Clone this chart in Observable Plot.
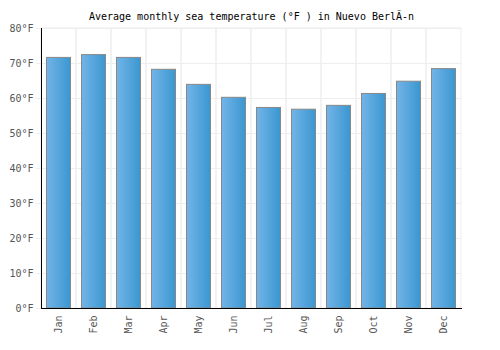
<!DOCTYPE html>
<html>
<head>
<meta charset="utf-8">
<script src="https://cdn.jsdelivr.net/npm/d3@7"></script>
<script src="https://cdn.jsdelivr.net/npm/@observablehq/plot@0.6"></script>
<style>
  body { margin: 0; background: #fff; }
</style>
</head>
<body>
<div id="chart"></div>
<script>
const titleText = "Average monthly sea temperature (°F ) in Nuevo BerlÃ-n";
const months = ["Jan","Feb","Mar","Apr","May","Jun","Jul","Aug","Sep","Oct","Nov","Dec"];
const temps = [71.6, 72.4, 71.6, 68.2, 63.9, 60.2, 57.3, 56.8, 57.9, 61.3, 64.8, 68.4];
const yTicks = [0, 10, 20, 30, 40, 50, 60, 70, 80];

const data = months.map((m, i) => ({month: m, temp: temps[i]}));
const font = "'DejaVu Sans Mono', monospace";

const chart = Plot.plot({
  width: 500,
  height: 350,
  marginLeft: 41,
  marginRight: 39,
  marginTop: 28,
  marginBottom: 42,
  style: {fontFamily: font, fontSize: "10px", color: "#555", background: "#fff"},
  x: {domain: months, padding: 0, label: null, tickSize: 0, tickRotate: -90, tickPadding: 7},
  y: {domain: [0, 80], ticks: yTicks, tickFormat: d => d + "°F", label: null, tickSize: 0, tickPadding: 8},
  marks: [
    Plot.cell(months, {x: d => d, fill: "none", stroke: "#eeeeee", inset: 0}),
    Plot.ruleY(yTicks, {stroke: "#eeeeee", insetLeft: -5}),
    Plot.barY(data, {x: "month", y: "temp", fill: "url(#barGrad)", stroke: "#888888", strokeWidth: 1, insetLeft: 5.5, insetRight: 5.5}),
    Plot.frame({anchor: "left", stroke: "#000"}),
    Plot.frame({anchor: "bottom", stroke: "#000"}),
    Plot.text([titleText], {frameAnchor: "top", dy: -16, text: d => d, fill: "#000", fontSize: 10})
  ]
});

const ns = "http://www.w3.org/2000/svg";
const defs = document.createElementNS(ns, "defs");
const grad = document.createElementNS(ns, "linearGradient");
grad.setAttribute("id", "barGrad");
grad.setAttribute("x1", "0"); grad.setAttribute("x2", "1");
grad.setAttribute("y1", "0"); grad.setAttribute("y2", "0");
[["0%", "#73b4e8"], ["100%", "#3a97d0"]].forEach(([o, c]) => {
  const s = document.createElementNS(ns, "stop");
  s.setAttribute("offset", o); s.setAttribute("stop-color", c);
  grad.appendChild(s);
});
defs.appendChild(grad);
chart.insertBefore(defs, chart.firstChild);

document.getElementById("chart").appendChild(chart);
</script>
</body>
</html>
